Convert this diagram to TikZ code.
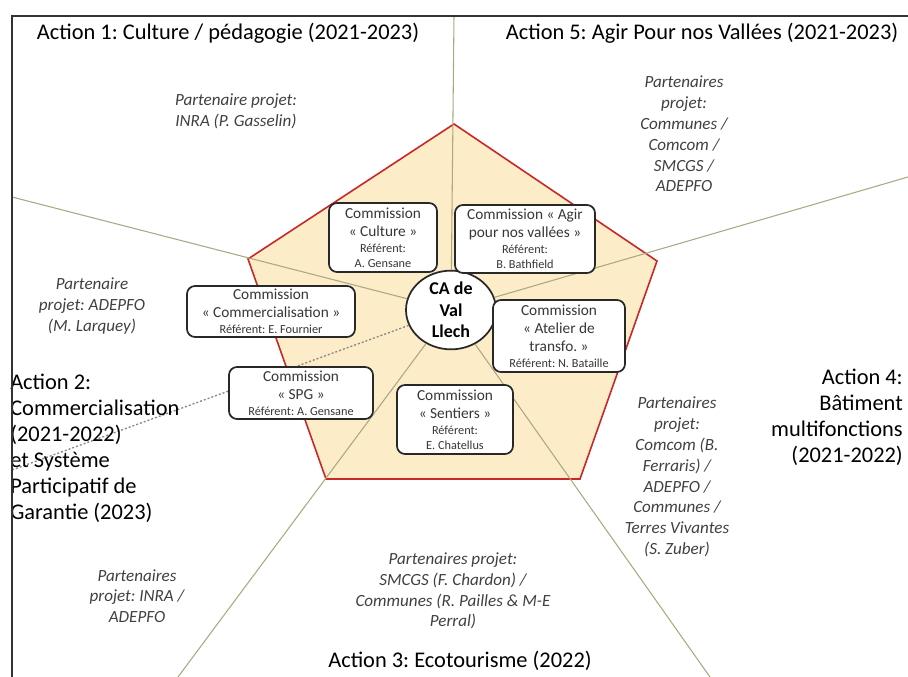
\documentclass[tikz,border=0pt]{standalone}
\usepackage{fontspec}
\setmainfont{Carlito}
\usetikzlibrary{shapes.geometric}
\frenchspacing
\definecolor{penfill}{RGB}{252,236,200}
\definecolor{penline}{RGB}{200,40,40}
\definecolor{spokecol}{RGB}{172,168,130}
\definecolor{boxline}{RGB}{40,40,40}
\definecolor{boxtxt}{RGB}{55,55,55}
\definecolor{parttxt}{RGB}{64,64,64}
\definecolor{dotcol}{RGB}{135,135,135}
\newcommand\fAct{\fontsize{16.8}{19.5}\selectfont}
\newcommand\fPart{\fontsize{12.8}{15.6}\selectfont\itshape}
\newcommand\fBox{\fontsize{11.5}{13.5}\selectfont}
\newcommand\fSmall{\fontsize{9.2}{11}\selectfont}
\newcommand\fCA{\fontsize{13.5}{16}\selectfont\bfseries}
\begin{document}
\begin{tikzpicture}[x=0.75pt,y=-0.75pt,
  combox/.style={draw=boxline, line width=1.3pt, fill=white, rounded corners=6pt,
                 align=center, text=boxtxt, inner sep=0pt, font=\fBox},
  actlabel/.style={text=black, font=\fAct, inner sep=0pt},
  partner/.style={text=parttxt, font=\fPart, align=center, inner sep=0pt},
  spokeline/.style={draw=spokecol, line width=0.8pt},
  dotline/.style={draw=dotcol, line width=1pt, dash pattern=on 1.5pt off 1.5pt},
  frameline/.style={draw=black!80, line width=1.4pt}
]
\useasboundingbox (0,0) rectangle (908,677);

% pentagon
\draw[fill=penfill, draw=penline, line width=1.2pt]
  (454,124) -- (657,261) -- (580,479) -- (326,479) -- (248,259) -- cycle;

% spoke end points
\coordinate (eT)  at (454,16);
\coordinate (eUR) at (908,177);
\coordinate (eLR) at (710,677);
\coordinate (eLL) at (178,677);
\coordinate (eUL) at (12,197);
\coordinate (eDot) at (12,470);

% centre
\node[ellipse, draw=boxline, line width=1.3pt, fill=white, minimum width=67.5pt,
      minimum height=59pt, inner sep=0pt, align=center, font=\fCA] (ca) at (451,310)
      {CA de\\Val\\Llech};

\draw[spokeline] (ca) -- (eT);
\draw[spokeline] (ca) -- (eUR);
\draw[spokeline] (ca) -- (eLR);
\draw[spokeline] (ca) -- (eLL);
\draw[spokeline] (ca) -- (eUL);
\draw[dotline] (ca) -- (eDot);

% commission boxes
\node[combox, minimum width=81pt, minimum height=51.75pt] (culture) at (383,237.5)
  {Commission\\ « Culture »\\[-1.5pt] \fSmall Référent:\\[-2.3pt] \fSmall A. Gensane};
\node[combox, minimum width=105pt, minimum height=51pt] (agir) at (525,239)
  {Commission « Agir\\ pour nos vallées »\\[-1.5pt] \fSmall Référent:\\[-2.3pt] \fSmall B. Bathfield};
\node[combox, minimum width=126pt, minimum height=38.25pt] (comm) at (271,311.5)
  {Commission\\ « Commercialisation »\\[-1.5pt] \fSmall Référent: E. Fournier};
\node[combox, minimum width=99pt, minimum height=54pt] (atelier) at (559,336)
  {Commission\\ « Atelier de\\ transfo. »\\[-1.5pt] \fSmall Référent: N. Bataille};
\node[combox, minimum width=108pt, minimum height=39pt] (spg) at (301,393)
  {Commission\\ « SPG »\\[-1.5pt] \fSmall Référent: A. Gensane};
\node[combox, minimum width=87pt, minimum height=51.75pt] (sentiers) at (455,419.5)
  {Commission\\ « Sentiers »\\[-1.5pt] \fSmall Référent:\\[-2.3pt] \fSmall E. Chatellus};

% action labels
\node[actlabel] (a1) at (228,33) {Action 1: Culture / pédagogie (2021-2023)};
\node[actlabel] (a5) at (702,33) {Action 5: Agir Pour nos Vallées (2021-2023)};
\node[actlabel] (a3) at (460,661) {Action 3: Ecotourisme (2022)};
\node[actlabel, anchor=west, align=left] (a2) at (10,448)
  {Action 2:\\Commercialisation\\(2021-2022)\\et Système\\Participatif de\\Garantie (2023)};
\node[actlabel, anchor=east, align=right] (a4) at (903,417)
  {Action 4:\\Bâtiment\\multifonctions\\(2021-2022)};

% partners
\node[partner] (p1) at (236,111) {Partenaire projet:\\INRA (P. Gasselin)};
\node[partner] (p5) at (684,134) {Partenaires\\projet:\\Communes /\\Comcom /\\SMCGS /\\ADEPFO};
\node[partner] (p2) at (92,306) {Partenaire\\projet: ADEPFO\\(M. Larquey)};
\node[partner] (p4) at (677,477) {Partenaires\\projet:\\Comcom (B.\\Ferraris) /\\ADEPFO /\\Communes /\\Terres Vivantes\\(S. Zuber)};
\node[partner] (pll) at (137,596) {Partenaires\\projet: INRA /\\ADEPFO};
\node[partner] (p3) at (453,591) {Partenaires projet:\\SMCGS (F. Chardon) /\\Communes (R. Pailles \& M-E\\Perral)};

% frame
\coordinate (fTL) at (12,16);
\coordinate (fTR) at (908,16);
\coordinate (fBL) at (12,677);
\draw[frameline] (fTR) -- (fTL) -- (fBL);
\end{tikzpicture}
\end{document}
